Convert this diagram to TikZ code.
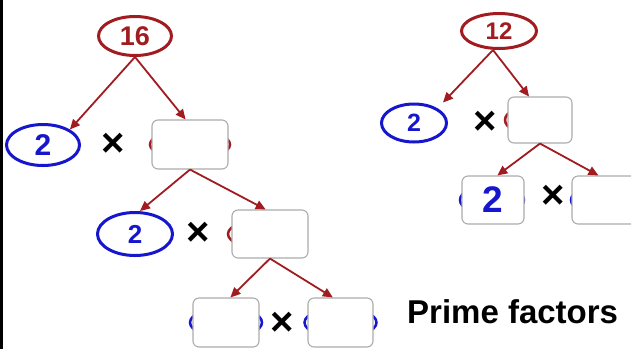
\documentclass[tikz,border=0pt]{standalone}
\usepackage{fontspec}
\setmainfont{Liberation Sans}
\usepackage{xcolor}
\usetikzlibrary{shapes,positioning,calc,arrows.meta}
\definecolor{treered}{RGB}{160,28,32}
\definecolor{primeblue}{RGB}{22,22,205}
\definecolor{boxgray}{RGB}{172,172,172}

\begin{document}
\begin{tikzpicture}[x=1pt, y=-1pt,
    numsize/.style={font=\bfseries\fontsize{#1}{#1}\selectfont},
    redoval/.style={ellipse, draw=treered, line width=3pt, text=treered, inner sep=0pt},
    blueoval/.style={ellipse, draw=primeblue, line width=3pt, text=primeblue, inner sep=0pt},
    backoval/.style={ellipse, line width=2.5pt, inner sep=0pt, minimum height=30pt},
    factorbox/.style={rectangle, rounded corners=6pt, draw=boxgray, line width=1.1pt, fill=white, inner sep=0pt},
    branch/.style={-{Triangle[length=10pt,width=9pt]}, treered, line width=1.8pt},
    times/.style={numsize=40, inner sep=0pt}]
    \useasboundingbox (0,0) rectangle (631,349);
    \clip (0,0) rectangle (631,349);
    \fill[black] (0,0) rectangle (3,349);

    % factor tree of 16
    \node[redoval, minimum width=73pt, minimum height=39pt, numsize=27] (n16) at (135,36) {16};
    \node[blueoval, minimum width=73pt, minimum height=41pt, numsize=30] (a1) at (43,145) {2};
    \node[times] (x1) at (113,145) {×};
    \node[backoval, draw=treered, minimum width=80pt] (b1back) at (190,144.5) {};
    \node[factorbox, minimum width=76pt, minimum height=49pt] (b1) at (190,144.5) {};

    \node[blueoval, minimum width=75pt, minimum height=43pt, numsize=26] (a2) at (135,234) {2};
    \node[times] (x2) at (198,234) {×};
    \node[backoval, draw=treered, minimum width=76pt] (b2back) at (266,234) {};
    \node[factorbox, minimum width=76pt, minimum height=48pt] (b2) at (270,234) {};

    \node[backoval, draw=primeblue, minimum width=72pt] (b3back) at (226,322.5) {};
    \node[factorbox, minimum width=66pt, minimum height=49pt] (b3) at (226,322.5) {};
    \node[times] (x3) at (282,324) {×};
    \node[backoval, draw=primeblue, minimum width=72pt] (b4back) at (340.5,322.5) {};
    \node[factorbox, minimum width=65pt, minimum height=49pt] (b4) at (340.5,322.5) {};

    \draw[branch] (n16.south) -- (a1.30);
    \draw[branch] (n16.south) -- (b1.100);
    \draw[branch] (b1.south) -- ([xshift=5pt]a2.north);
    \draw[branch] (b1.south) -- (b2.100);
    \draw[branch] (b2.south) -- (b3.80);
    \draw[branch] (b2.south) -- (b4.107);

    % factor tree of 12
    \node[redoval, minimum width=75pt, minimum height=35pt, numsize=24] (n12) at (499,31) {12};
    \node[blueoval, minimum width=65pt, minimum height=38pt, numsize=25] (a3) at (414,123) {2};
    \node[times] (x4) at (485,123) {×};
    \node[backoval, draw=treered, minimum width=64pt] (r1back) at (537,120) {};
    \node[factorbox, minimum width=64pt, minimum height=46pt] (r1) at (540,120) {};

    \node[backoval, draw=primeblue, minimum width=64pt] (r2back) at (492,200) {};
    \node[factorbox, minimum width=62pt, minimum height=48pt, numsize=37, text=primeblue] (r2) at (493,200) {2};
    \node[times] (x5) at (553,197) {×};
    \node[backoval, draw=primeblue, minimum width=68pt] (r3back) at (605,200) {};
    \node[factorbox, minimum width=66pt, minimum height=48pt] (r3) at (605,200) {};

    \draw[branch] ([xshift=-6pt]n12.south) -- ([xshift=29pt]a3.north);
    \draw[branch] ([xshift=-6pt]n12.south) -- (r1.115);
    \draw[branch] (r1.south) -- (r2.80);
    \draw[branch] (r1.south) -- (r3.105);

    \node[anchor=base west, inner sep=0pt, numsize=33] (primelabel) at (407,323) {Prime factors};
\end{tikzpicture}
\end{document}
